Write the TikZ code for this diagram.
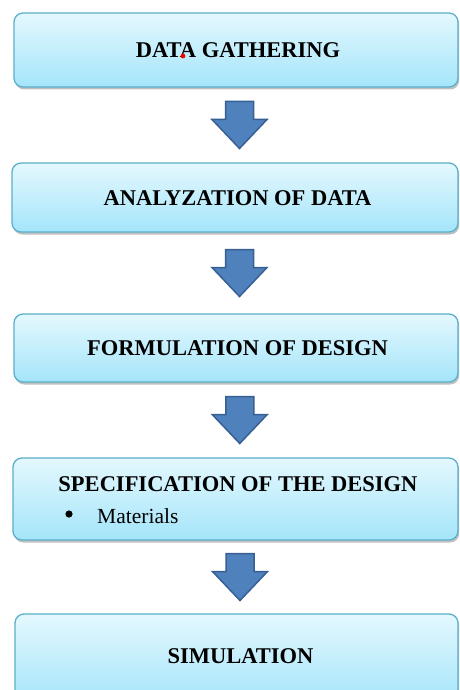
\documentclass[tikz,border=0pt]{standalone}
\usepackage{fontspec}
\newfontfamily\tnr{Liberation Serif}
\usetikzlibrary{shadows,calc}
\definecolor{boxtop}{HTML}{E4F8FE}
\definecolor{boxbot}{HTML}{A4E5FA}
\definecolor{boxedge}{HTML}{5AAFCB}
\definecolor{arrfill}{HTML}{4F81BD}
\definecolor{arredge}{HTML}{385F94}
\tikzset{
  stepbox/.style={rectangle, rounded corners=9pt, draw=boxedge, line width=1.3pt,
    top color=boxtop, bottom color=boxbot,
    drop shadow={opacity=0.35, shadow xshift=1.2pt, shadow yshift=-2.5pt, fill=black!70}},
  titletext/.style={font=\tnr\fontsize{22.5}{26}\selectfont\bfseries, inner sep=0pt},
  itemtext/.style={font=\tnr\fontsize{21.5}{25}\selectfont, inner sep=0pt},
  blockarr/.style={fill=arrfill, draw=arredge, line width=1.5pt, line join=miter}
}
\newcommand{\blockarrow}[2]{%
  \path ($(#1.south)!0.5!(#2.north)$) coordinate (m#1);
  \draw[blockarr] ([shift={(-10,-23.5)}]m#1) -- ([shift={(18,-23.5)}]m#1)
    -- ([shift={(18,-5.5)}]m#1) -- ([shift={(31.5,-5.5)}]m#1)
    -- ([shift={(4,23.5)}]m#1) -- ([shift={(-23.5,-5.5)}]m#1)
    -- ([shift={(-10,-5.5)}]m#1) -- cycle;}
\begin{document}
\begin{tikzpicture}[x=1pt,y=-1pt]
\useasboundingbox (0,0) rectangle (459,690);
\clip (0,0) rectangle (459,690);
\fill[white] (0,0) rectangle (459,690);
\node[stepbox, minimum width=444pt, minimum height=74pt] (b1) at (236,50) {};
\node[stepbox, minimum width=446pt, minimum height=69pt] (b2) at (235,197.5) {};
\node[stepbox, minimum width=444pt, minimum height=68pt] (b3) at (236,348) {};
\node[stepbox, minimum width=445pt, minimum height=82pt] (b4) at (235.5,499) {};
\node[stepbox, minimum width=443pt, minimum height=90pt] (b5) at (236.5,659) {};
\node[titletext] (t1) at (238,50) {DATA GATHERING};
\fill[red] (183,56) circle (2.4pt);
\node[titletext] (t2) at (237.5,198) {ANALYZATION OF DATA};
\node[titletext] (t3) at (237.5,348) {FORMULATION OF DESIGN};
\node[titletext] (t4) at (238,484) {SPECIFICATION OF THE DESIGN};
\node[itemtext, anchor=west] (t4b) at (97,516) {Materials};
\fill (69,514) circle (3.6pt);
\node[titletext] (t5) at (240.5,656) {SIMULATION};
\blockarrow{b1}{b2}
\blockarrow{b2}{b3}
\blockarrow{b3}{b4}
\blockarrow{b4}{b5}
\end{tikzpicture}
\end{document}
